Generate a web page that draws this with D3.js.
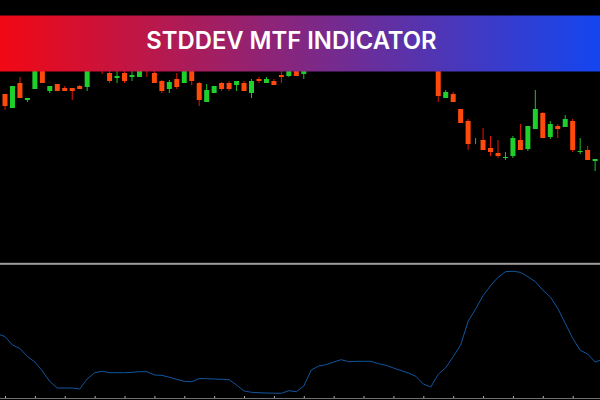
<!DOCTYPE html>
<html><head><meta charset="utf-8">
<script src="https://cdn.jsdelivr.net/npm/d3@7/dist/d3.min.js"></script>
<style>html,body{margin:0;padding:0;background:#000;overflow:hidden}svg{display:block}</style>
</head><body><svg id="c" width="600" height="400"></svg>
<script>
const title = "STDDEV MTF INDICATOR";
const bars   = [-1,0,1,2,3,4,5,6,7,8,9,10,11,13,14,15,16,17,18,19,20,21,22,23,24,25,26,27,28,29,30,31,32,33,34,35,36,37,38,39,40,58,59,60,61,62,63,64,65,66,67,68,69,70,71,72,73,74,75,76,77,78,79];
const opens  = [176,166,152,177,160,171,200,169,176,172,172,174,173,200,187,182,187,183,183,200,187,179,171,181,177,200,177,158,167,177,177,175,177,167,181,177,179,185,184,200,186,200,162,166,151,139,119,120,112,107,102,104,120,111,131,147,123,134,133,139,108,110,99];
const highs  = [180,166,174,183,162,200,200,174,176,174,172,175,200,200,190,190,190,190,200,200,190,180,180,187,200,200,178,176,174,178,179,179,179,181,183,183,181,190,200,200,200,200,170,168,151,141,122,132,124,120,108,124,136,134,170,148,139,136,145,141,122,114,101];
const lows   = [168,150,152,162,158,171,177,167,169,169,160,171,169,186,177,177,177,179,183,183,177,167,167,171,177,175,154,158,167,169,169,169,169,162,177,177,175,177,183,184,181,158,162,158,137,110,116,110,104,102,100,102,110,109,131,122,121,122,133,108,106,100,89];
const closes = [168,154,174,162,162,200,177,174,169,169,169,171,200,192,179,184,179,185,200,192,177,169,178,173,200,179,160,170,174,171,171,179,169,179,179,181,175,183,200,184,200,164,168,158,137,116,119,110,108,104,103,122,110,134,151,122,136,131,141,110,109,100,101];
const stddevBars = d3.range(-1, 81);
const stddev = [64,61.5,53,49.5,41.5,36,27,16.5,10,10,10,9,19,25.3,26.7,25.3,25.3,25.3,25.7,26.3,26.3,23,22.7,20.7,18.7,16.7,16.3,19.5,19.3,19,18.7,18.3,13,7,5.7,5.3,5,4.8,4.7,7.3,6.3,12,28,32,33.3,36,38.3,36.3,36.7,36.7,36.7,34.3,32.7,30,27.5,25,21.7,14,11,23.7,30.3,41.3,53,76.7,89,102.3,112.3,120.7,126.3,126.7,125.7,121.3,116.3,108,101,89.7,74.7,59.7,47.7,44,36,38.5];
const axisBars = d3.range(0, 80, 4);

const svg = d3.select("#c");
const x = d3.scaleLinear().domain([0, 79]).range([5, 595.1]);
const yPrice = d3.scaleLinear().domain([0, 260]).range([260, 0]);
const yInd = d3.scaleLinear().domain([0, 134]).range([398, 264]);
const UP = "#1fd02c", DOWN = "#ff4a0c", WICK_DOWN = "#e8140a", WICK_UP = "#1fc02a";
const candles = bars.map((b, i) => ({b, o: opens[i], h: highs[i], l: lows[i], c: closes[i]}));

const price = svg.append("g");
price.selectAll("line").data(candles).join("line")
  .attr("x1", d => x(d.b)).attr("x2", d => x(d.b))
  .attr("y1", d => yPrice(d.h)).attr("y2", d => yPrice(d.l))
  .attr("stroke", d => d.c >= d.o ? WICK_UP : WICK_DOWN).attr("stroke-width", 1);
price.selectAll("rect").data(candles.filter(d => d.o !== d.c)).join("rect")
  .attr("x", d => x(d.b) - 2.5).attr("width", 5)
  .attr("y", d => yPrice(Math.max(d.o, d.c)))
  .attr("height", d => Math.max(1, Math.abs(yPrice(d.o) - yPrice(d.c))))
  .attr("fill", d => d.c >= d.o ? UP : DOWN);

svg.append("rect").attr("x", 0).attr("width", 600).attr("y", 262.8).attr("height", 2).attr("fill", "#9c9c9c");

const line = d3.line().x((d, i) => x(stddevBars[i])).y(d => yInd(d));
svg.append("path").datum(stddev).attr("d", line).attr("fill", "none").attr("stroke", "#10569e").attr("stroke-width", 1);

const axis = d3.axisBottom(x).tickValues(axisBars).tickSize(-2).tickFormat("");
const ax = svg.append("g").attr("transform", "translate(0,398)").call(axis);
ax.selectAll("line").attr("stroke", "#b0b0b0");
ax.select(".domain").attr("stroke", "#707070").attr("d", "M0,0.5H600");

const defs = svg.append("defs");
const grad = defs.append("linearGradient").attr("id", "g");
grad.append("stop").attr("offset", 0).attr("stop-color", "#f20814");
grad.append("stop").attr("offset", 1).attr("stop-color", "#1346f0");
svg.append("rect").attr("x", 0).attr("y", 15.5).attr("width", 600).attr("height", 56).attr("fill", "url(#g)");
svg.append("text").attr("x", 291.5).attr("y", 49).attr("text-anchor", "middle")
  .attr("font-family", "Inter, 'Open Sans', sans-serif").attr("font-weight", 600).attr("font-size", 23.8)
  .attr("fill", "#fff").text(title);
</script></body></html>
